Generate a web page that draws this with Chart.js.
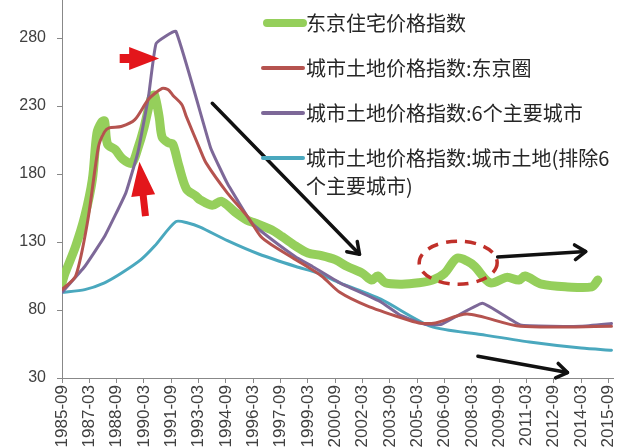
<!DOCTYPE html>
<html><head><meta charset="utf-8">
<script src="https://cdn.jsdelivr.net/npm/chart.js@4/dist/chart.umd.min.js"></script>
<style>html,body{margin:0;padding:0;background:#fff}canvas{display:block}</style>
</head><body>
<canvas id="c" width="625" height="448"></canvas>
<script>
// ---------- data ----------
const xTickLabels = ['1985-09','1987-03','1988-09','1990-03','1991-09','1993-03','1994-09','1996-03','1997-09','1999-03','2000-09','2002-03','2003-09','2005-03','2006-09','2008-03','2009-09','2011-03','2012-09','2014-03','2015-09'];
const yTickValues = [30,80,130,180,230,280];
const seriesNames = ['东京住宅价格指数','城市土地价格指数:东京圈','城市土地价格指数:6个主要城市','城市土地价格指数:城市土地(排除6个主要城市)'];

const greenDates = ['1985-09','1985-11','1986-06','1986-12','1987-05','1987-08','1987-11','1988-01','1988-03','1988-08','1989-01','1989-07','1989-11','1990-03','1990-08','1990-10','1991-01','1991-03','1991-07','1991-10','1992-02','1992-07','1993-01','1993-04','1993-12','1994-06','1995-03','1995-11','1996-04','1997-03','1997-10','1998-07','1999-03','1999-12','2000-09','2001-05','2002-03','2002-09','2003-01','2003-06','2004-05','2005-04','2006-01','2006-09','2007-05','2007-12','2008-05','2009-03','2010-02','2010-10','2011-02','2012-01','2013-06','2014-10','2015-02'];
const greenValues = [100,107,127,149,176,210,218,219,202,198,191,188,199,214,237,238,222,207,203,202,186,169,164,161,157,160,152,146,144,139,134,127,122,120,117,112,107,102,105,100,99,100,102,107,118,116,112,100,104,102,105,99,97,97,102];

const redDates = ['1985-09','1986-06','1987-02','1987-09','1988-01','1988-04','1988-12','1989-09','1990-06','1991-03','1991-07','1991-10','1992-04','1992-07','1993-04','1993-08','1994-10','1995-11','1996-08','1997-03','1998-07','1999-12','2000-12','2002-06','2004-05','2005-04','2006-03','2007-12','2010-11','2015-11'];
const redValues = [95,105,146,200,211,214,215,220,235,243,242,238,231,222,198,188,166,149,134,128,117,105,93,83,74,70.5,70.5,77,68,68];

const purpleDates = ['1985-09','1986-12','1988-01','1989-03','1989-11','1990-06','1990-11','1991-12','1993-11','1994-10','1996-02','1997-03','1998-07','1999-06','2000-12','2003-03','2004-04','2005-08','2006-07','2008-10','2010-11','2014-03','2015-11'];
const purpleValues = [93,112,134,166,196,237,276,285,199,173,144,132,119,112,100,86,76,69.5,69.5,85,69,68,70];

const cyanDates = ['1985-09','1986-12','1988-01','1988-12','1990-01','1990-10','1991-12','1992-08','1993-04','1994-10','1996-07','1998-07','1999-10','2000-12','2003-03','2005-12','2008-09','2011-05','2014-03','2015-11'];
const cyanValues = [93,95,100,107,117,127,145,144,141,131,121,112,107,100,88,68,62,56.5,52,50.4];

// ---------- helpers ----------
function monthIndex(s){ const p = s.split('-').map(Number); return (p[0]-1985)*12 + (p[1]-9); }
function pts(dates, vals){ return dates.map((d,i)=>({x:monthIndex(d), y:vals[i]})); }

const colors = ['#95CF5B','#B5534F','#7D6898','#4AA8BE'];
const widths = [9,3,3,3];

// annotation anchors (date, value) – decoration only
const blackArrows = [
  {from:['1993-12',232], to:['2002-01',121]},
  {from:['2009-08',119], to:['2014-06',123]},
  {from:['2008-07',46],  to:['2013-06',34]}
];
const redArrows = [
  {from:['1988-11',265], to:['1991-01',265], shaft:9, head:30, half:11.5},
  {from:['1990-04',149], to:['1989-12',189], shaft:7, head:34, half:12}
];
const ellipseAt = {center:['2007-06',114.8], rx:39, ry:21.5};

const overlay = {
  id:'overlay',
  afterDatasetsDraw(chart){
    const {ctx} = chart; const x = chart.scales.x, y = chart.scales.y;
    const P = a => [x.getPixelForValue(monthIndex(a[0])), y.getPixelForValue(a[1])];
    ctx.save();
    const c = P(ellipseAt.center);
    ctx.beginPath();
    ctx.setLineDash([11,8]);
    ctx.lineWidth = 3.5; ctx.strokeStyle = '#C0302A';
    ctx.ellipse(c[0], c[1], ellipseAt.rx, ellipseAt.ry, 0, 0, Math.PI*2);
    ctx.stroke();
    ctx.setLineDash([]);
    ctx.strokeStyle = '#111'; ctx.lineWidth = 3.5; ctx.lineCap = 'round'; ctx.lineJoin='round';
    blackArrows.forEach(a=>{
      const p0 = P(a.from), p1 = P(a.to);
      const ang = Math.atan2(p1[1]-p0[1], p1[0]-p0[0]);
      ctx.beginPath(); ctx.moveTo(p0[0],p0[1]); ctx.lineTo(p1[0],p1[1]); ctx.stroke();
      const L = 13;
      ctx.beginPath();
      ctx.moveTo(p1[0]-L*Math.cos(ang-0.6), p1[1]-L*Math.sin(ang-0.6));
      ctx.lineTo(p1[0],p1[1]);
      ctx.lineTo(p1[0]-L*Math.cos(ang+0.6), p1[1]-L*Math.sin(ang+0.6));
      ctx.stroke();
    });
    ctx.fillStyle = '#E3161B';
    redArrows.forEach(a=>{
      const t = P(a.from), h = P(a.to);
      const dx = h[0]-t[0], dy = h[1]-t[1], len = Math.hypot(dx,dy);
      const ux = dx/len, uy = dy/len, nx = -uy, ny = ux;
      const bx = h[0]-ux*a.head, by = h[1]-uy*a.head;
      const s = a.shaft/2;
      ctx.beginPath();
      ctx.moveTo(t[0]+nx*s, t[1]+ny*s);
      ctx.lineTo(bx+nx*s, by+ny*s);
      ctx.lineTo(bx+nx*a.half, by+ny*a.half);
      ctx.lineTo(h[0], h[1]);
      ctx.lineTo(bx-nx*a.half, by-ny*a.half);
      ctx.lineTo(bx-nx*s, by-ny*s);
      ctx.lineTo(t[0]-nx*s, t[1]-ny*s);
      ctx.closePath(); ctx.fill();
    });
    ctx.restore();
  },
  afterDraw(chart){
    const {ctx} = chart;
    ctx.save();
    ctx.font = '20px "Noto Sans CJK SC"';
    ctx.textBaseline = 'middle'; ctx.fillStyle = '#262626';
    const x0 = 263, x1 = 303, tx = 306, maxW = 625 - tx - 2;
    let yy = 23;
    chart.data.datasets.forEach((ds,i)=>{
      ctx.beginPath(); ctx.lineCap='round';
      ctx.strokeStyle = ds.borderColor; ctx.lineWidth = i===0 ? 8 : 4;
      ctx.moveTo(x0+ (i===0?4:0), yy); ctx.lineTo(x1, yy); ctx.stroke();
      const lines = []; let cur = '';
      for (const ch of ds.label){
        if (ctx.measureText(cur+ch).width > maxW){ lines.push(cur); cur = ch; } else cur += ch;
      }
      lines.push(cur);
      lines.forEach((ln,k)=> ctx.fillText(ln, tx, yy + k*28));
      yy += 45;
    });
    ctx.restore();
  }
};

const datasets = [
  {label:seriesNames[0], data:pts(greenDates,greenValues), order:3, tension:0.3},
  {label:seriesNames[1], data:pts(redDates,redValues), order:0, tension:0.25},
  {label:seriesNames[2], data:pts(purpleDates,purpleValues), order:1, tension:0.1},
  {label:seriesNames[3], data:pts(cyanDates,cyanValues), order:2, tension:0.25}
].map((d,i)=>Object.assign(d,{borderColor:colors[i], backgroundColor:colors[i], borderWidth:widths[i], pointRadius:0, fill:false, borderJoinStyle:'round', borderCapStyle:'round'}));

new Chart(document.getElementById('c'), {
  type:'line',
  data:{datasets},
  options:{
    responsive:false, animation:false,
    layout:{padding:{left:0,right:12,top:0,bottom:0}},
    plugins:{legend:{display:false}, tooltip:{enabled:false}},
    scales:{
      x:{type:'linear', min:0, max:363,
        afterBuildTicks:s=>{ s.ticks = xTickLabels.map(l=>({value:monthIndex(l)})); },
        afterFit:s=>{ s.height = 70; s.paddingLeft = 0; s.paddingRight = 0; },
        ticks:{autoSkip:false, maxRotation:90, minRotation:90, padding:2, color:'#404040',
          font:{family:'"Liberation Sans", Arial', size:17},
          callback:(v)=>{ const i = xTickLabels.findIndex(l=>monthIndex(l)===v); return i>=0 ? xTickLabels[i] : ''; }},
        grid:{drawOnChartArea:false, drawTicks:true, tickLength:5, color:'#888'},
        border:{color:'#888', width:1}
      },
      y:{type:'linear', min:30, max:308,
        afterBuildTicks:s=>{ s.ticks = yTickValues.map(v=>({value:v})); },
        afterFit:s=>{ s.width = 62; s.paddingTop = 0; s.paddingBottom = 0; },
        ticks:{padding:11, color:'#404040', font:{family:'"Liberation Sans", Arial', size:16}},
        grid:{drawOnChartArea:false, drawTicks:true, tickLength:5, color:'#888'},
        border:{color:'#888', width:1}
      }
    }
  },
  plugins:[overlay]
});
</script>
</body></html>
